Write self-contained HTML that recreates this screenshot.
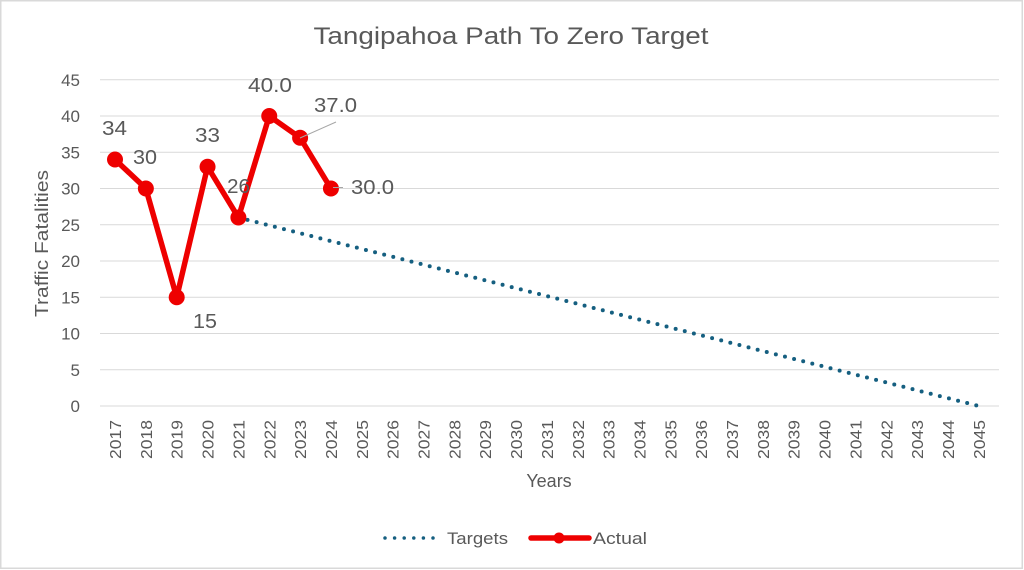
<!DOCTYPE html>
<html><head><meta charset="utf-8"><style>
html,body{margin:0;padding:0;background:#fff;}
svg{display:block;}
text{font-family:"Liberation Sans",sans-serif;fill:#595959;}
</style></head><body>
<svg width="1024" height="570" viewBox="0 0 1024 570" xmlns="http://www.w3.org/2000/svg">
<rect x="0" y="0" width="1024" height="570" fill="#fff"/>
<rect x="0.75" y="0.75" width="1021.5" height="567.5" fill="none" stroke="#d9d9d9" stroke-width="1.5"/>
<text x="511" y="44" font-size="24" text-anchor="middle" textLength="395" lengthAdjust="spacingAndGlyphs">Tangipahoa Path To Zero Target</text>
<g stroke="#d9d9d9" stroke-width="1">
<line x1="100" y1="406" x2="999" y2="406"/>
<line x1="100" y1="369.75" x2="999" y2="369.75"/>
<line x1="100" y1="333.5" x2="999" y2="333.5"/>
<line x1="100" y1="297.25" x2="999" y2="297.25"/>
<line x1="100" y1="261" x2="999" y2="261"/>
<line x1="100" y1="224.75" x2="999" y2="224.75"/>
<line x1="100" y1="188.5" x2="999" y2="188.5"/>
<line x1="100" y1="152.25" x2="999" y2="152.25"/>
<line x1="100" y1="116" x2="999" y2="116"/>
<line x1="100" y1="79.75" x2="999" y2="79.75"/>
</g>
<g font-size="17" text-anchor="end">
<text x="80" y="412">0</text>
<text x="80" y="375.75">5</text>
<text x="80" y="339.5">10</text>
<text x="80" y="303.25">15</text>
<text x="80" y="267">20</text>
<text x="80" y="230.75">25</text>
<text x="80" y="194.5">30</text>
<text x="80" y="158.25">35</text>
<text x="80" y="122">40</text>
<text x="80" y="85.75">45</text>
</g>
<g font-size="16" text-anchor="end">
<text transform="translate(121,420) rotate(-90)" textLength="39" lengthAdjust="spacingAndGlyphs">2017</text>
<text transform="translate(151.85,420) rotate(-90)" textLength="39" lengthAdjust="spacingAndGlyphs">2018</text>
<text transform="translate(182.7,420) rotate(-90)" textLength="39" lengthAdjust="spacingAndGlyphs">2019</text>
<text transform="translate(213.55,420) rotate(-90)" textLength="39" lengthAdjust="spacingAndGlyphs">2020</text>
<text transform="translate(244.4,420) rotate(-90)" textLength="39" lengthAdjust="spacingAndGlyphs">2021</text>
<text transform="translate(275.25,420) rotate(-90)" textLength="39" lengthAdjust="spacingAndGlyphs">2022</text>
<text transform="translate(306.1,420) rotate(-90)" textLength="39" lengthAdjust="spacingAndGlyphs">2023</text>
<text transform="translate(336.95,420) rotate(-90)" textLength="39" lengthAdjust="spacingAndGlyphs">2024</text>
<text transform="translate(367.8,420) rotate(-90)" textLength="39" lengthAdjust="spacingAndGlyphs">2025</text>
<text transform="translate(398.65,420) rotate(-90)" textLength="39" lengthAdjust="spacingAndGlyphs">2026</text>
<text transform="translate(429.5,420) rotate(-90)" textLength="39" lengthAdjust="spacingAndGlyphs">2027</text>
<text transform="translate(460.35,420) rotate(-90)" textLength="39" lengthAdjust="spacingAndGlyphs">2028</text>
<text transform="translate(491.2,420) rotate(-90)" textLength="39" lengthAdjust="spacingAndGlyphs">2029</text>
<text transform="translate(522.05,420) rotate(-90)" textLength="39" lengthAdjust="spacingAndGlyphs">2030</text>
<text transform="translate(552.9,420) rotate(-90)" textLength="39" lengthAdjust="spacingAndGlyphs">2031</text>
<text transform="translate(583.75,420) rotate(-90)" textLength="39" lengthAdjust="spacingAndGlyphs">2032</text>
<text transform="translate(614.6,420) rotate(-90)" textLength="39" lengthAdjust="spacingAndGlyphs">2033</text>
<text transform="translate(645.45,420) rotate(-90)" textLength="39" lengthAdjust="spacingAndGlyphs">2034</text>
<text transform="translate(676.3,420) rotate(-90)" textLength="39" lengthAdjust="spacingAndGlyphs">2035</text>
<text transform="translate(707.15,420) rotate(-90)" textLength="39" lengthAdjust="spacingAndGlyphs">2036</text>
<text transform="translate(738,420) rotate(-90)" textLength="39" lengthAdjust="spacingAndGlyphs">2037</text>
<text transform="translate(768.85,420) rotate(-90)" textLength="39" lengthAdjust="spacingAndGlyphs">2038</text>
<text transform="translate(799.7,420) rotate(-90)" textLength="39" lengthAdjust="spacingAndGlyphs">2039</text>
<text transform="translate(830.55,420) rotate(-90)" textLength="39" lengthAdjust="spacingAndGlyphs">2040</text>
<text transform="translate(861.4,420) rotate(-90)" textLength="39" lengthAdjust="spacingAndGlyphs">2041</text>
<text transform="translate(892.25,420) rotate(-90)" textLength="39" lengthAdjust="spacingAndGlyphs">2042</text>
<text transform="translate(923.1,420) rotate(-90)" textLength="39" lengthAdjust="spacingAndGlyphs">2043</text>
<text transform="translate(953.95,420) rotate(-90)" textLength="39" lengthAdjust="spacingAndGlyphs">2044</text>
<text transform="translate(984.8,420) rotate(-90)" textLength="39" lengthAdjust="spacingAndGlyphs">2045</text>
</g>
<text x="549" y="487" font-size="18" text-anchor="middle">Years</text>
<text transform="translate(48,243.5) rotate(-90)" font-size="18" text-anchor="middle" textLength="147" lengthAdjust="spacingAndGlyphs">Traffic Fatalities</text>
<!-- Targets -->
<line x1="238.4" y1="217.5" x2="978.8" y2="406" stroke="#155f80" stroke-width="4" stroke-linecap="round" stroke-dasharray="0 9.4"/>
<!-- Actual -->
<polyline points="115,159.5 145.85,188.5 176.7,297.25 207.55,166.75 238.4,217.5 269.25,116 300.1,137.75 330.95,188.5" fill="none" stroke="#ee0000" stroke-width="5.5" stroke-linejoin="round"/>
<g fill="#ee0000">
<circle cx="115" cy="159.5" r="8"/>
<circle cx="145.85" cy="188.5" r="8"/>
<circle cx="176.7" cy="297.25" r="8"/>
<circle cx="207.55" cy="166.75" r="8"/>
<circle cx="238.4" cy="217.5" r="8"/>
<circle cx="269.25" cy="116" r="8"/>
<circle cx="300.1" cy="137.75" r="8"/>
<circle cx="330.95" cy="188.5" r="8"/>
</g>
<g stroke="#a6a6a6" stroke-width="1">
<line x1="300" y1="138" x2="336" y2="122"/>
<line x1="333" y1="187.5" x2="343" y2="187.5"/>
</g>
<g font-size="20" text-anchor="middle">
<text x="114.5" y="135" textLength="25" lengthAdjust="spacingAndGlyphs">34</text>
<text x="145" y="164" textLength="24" lengthAdjust="spacingAndGlyphs">30</text>
<text x="205" y="328" textLength="24" lengthAdjust="spacingAndGlyphs">15</text>
<text x="207.5" y="142" textLength="25" lengthAdjust="spacingAndGlyphs">33</text>
<text x="238.5" y="193" textLength="23" lengthAdjust="spacingAndGlyphs">26</text>
<text x="270" y="92" textLength="44" lengthAdjust="spacingAndGlyphs">40.0</text>
<text x="335.5" y="112" textLength="43" lengthAdjust="spacingAndGlyphs">37.0</text>
<text x="372.5" y="194" textLength="43" lengthAdjust="spacingAndGlyphs">30.0</text>
</g>
<!-- Legend -->
<line x1="385" y1="538" x2="434" y2="538" stroke="#155f80" stroke-width="3.5" stroke-linecap="round" stroke-dasharray="0 9.6"/>
<text x="447" y="544" font-size="17" textLength="61" lengthAdjust="spacingAndGlyphs">Targets</text>
<line x1="531" y1="538" x2="589" y2="538" stroke="#ee0000" stroke-width="5.5" stroke-linecap="round"/>
<circle cx="559" cy="538" r="5.5" fill="#ee0000"/>
<text x="593" y="544" font-size="17" textLength="54" lengthAdjust="spacingAndGlyphs">Actual</text>
</svg>
</body></html>
